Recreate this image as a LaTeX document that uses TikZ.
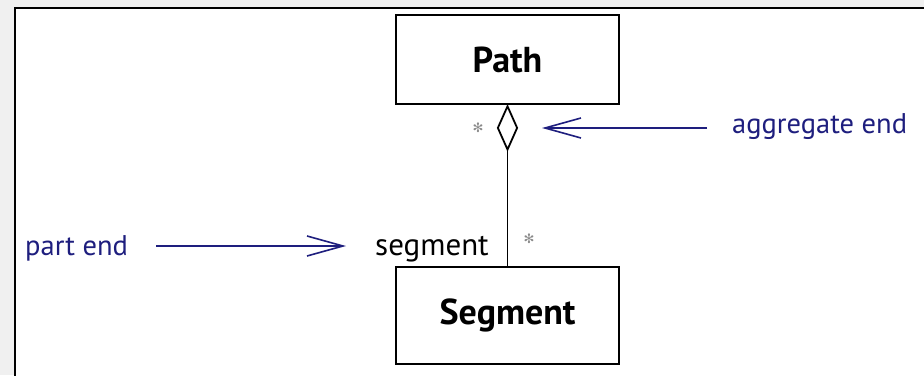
\documentclass[tikz,border=0pt]{standalone}
\usepackage{fontspec}
\setmainfont{PT Sans}
\newfontfamily\symfont{DejaVu Sans}
\usetikzlibrary{arrows.meta,shapes.geometric}
\definecolor{bggray}{HTML}{F0F0F0}
\definecolor{navy}{HTML}{1E1E7E}
\definecolor{startone}{HTML}{8A8A8A}
\tikzset{
  classbox/.style={draw=black, line width=2pt, fill=white, inner sep=0pt,
    font=\fontsize{36}{40}\selectfont\bfseries},
  blabel/.style={text=navy, inner sep=0pt, font=\fontsize{28.5}{32}\selectfont},
  rolelabel/.style={text=black, inner sep=0pt, font=\fontsize{31}{34}\selectfont},
  multi/.style={text=startone, inner sep=0pt, font=\symfont\fontsize{13}{15}\selectfont},
  pointer/.style={draw=navy, line width=1.6pt,
    -{Straight Barb[length=36pt,width=20pt,line width=1.6pt]}},
}
\begin{document}
\begin{tikzpicture}[x=1pt,y=-1pt]
\useasboundingbox (0,0) rectangle (924,375);
\clip (0,0) rectangle (924,375);
\fill[bggray] (0,0) rectangle (924,375);
\filldraw[fill=white, draw=black, line width=2.2pt] (15,8) rectangle (940,390);

\node[classbox, minimum width=223pt, minimum height=89pt] (path) at (507.5,59.5) {Path};
\node[classbox, minimum width=223pt, minimum height=97pt] (seg) at (507.5,315.5) {Segment};
\node[diamond, draw=black, line width=1.8pt, fill=white, inner sep=0pt,
      minimum width=20pt, minimum height=44pt, anchor=north] (agg) at (path.south) {};
\draw[line width=1.8pt] (agg.south) -- (seg.north);

\node[multi] (m1) at (478,128) {✻};
\node[multi] (m2) at (529,239) {✻};

\node[rolelabel, anchor=base west] (role) at (375,255) {segment};
\node[blabel, anchor=base west] (aggl) at (732,133) {aggregate end};
\node[blabel, anchor=base west] (partl) at (25,255) {part end};

\coordinate (aggtip) at (542,128);
\coordinate (parttip) at (346,246);
\draw[pointer] ([xshift=-25pt]aggl.west |- aggtip) -- (aggtip);
\draw[pointer] ([xshift=28pt]partl.east |- parttip) -- (parttip);
\end{tikzpicture}
\end{document}
